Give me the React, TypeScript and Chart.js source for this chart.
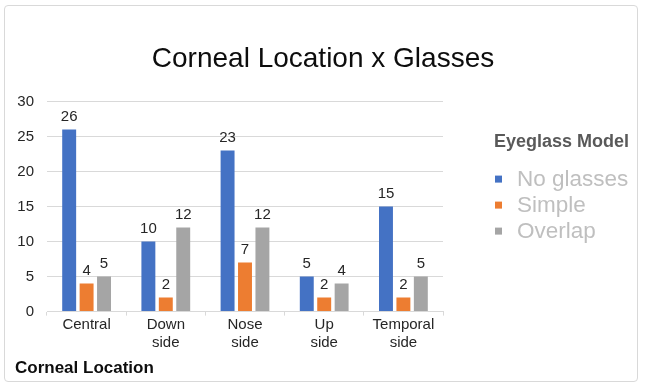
import React, { useEffect, useRef } from 'react';
import { Chart, registerables } from 'chart.js';

Chart.register(...registerables);

const categories: (string | string[])[] = ['Central', ['Down', 'side'], ['Nose', 'side'], ['Up', 'side'], ['Temporal', 'side']];
const noGlasses = [26, 10, 23, 5, 15];
const simple = [4, 2, 7, 2, 2];
const overlap = [5, 12, 12, 4, 5];
const seriesNames = ['No glasses', 'Simple', 'Overlap'];
const seriesColors = ['#4472C4', '#ED7D31', '#A5A5A5'];
const chartTitle = 'Corneal Location x Glasses';
const xAxisTitle = 'Corneal Location';
const legendTitle = 'Eyeglass Model';
const yMin = 0;
const yMax = 30;
const yStep = 5;

const FONT = '"Liberation Sans", Arial, sans-serif';

const dataLabelPlugin = {
  id: 'dataLabels',
  afterDatasetsDraw(chart: any) {
    const ctx = chart.ctx;
    ctx.save();
    ctx.font = `15px ${FONT}`;
    ctx.fillStyle = '#262626';
    ctx.textAlign = 'center';
    ctx.textBaseline = 'alphabetic';
    chart.data.datasets.forEach((ds: any, i: number) => {
      chart.getDatasetMeta(i).data.forEach((bar: any, j: number) => {
        ctx.fillText(String(ds.data[j]), bar.x, bar.y - 9);
      });
    });
    ctx.restore();
  },
};

const sideLegendPlugin = {
  id: 'sideLegend',
  afterDraw(chart: any) {
    const ctx = chart.ctx;
    const area = chart.chartArea;
    const x0 = area.right + 51;
    ctx.save();
    ctx.textAlign = 'left';
    ctx.textBaseline = 'middle';
    ctx.font = `bold 18px ${FONT}`;
    ctx.fillStyle = '#595959';
    ctx.fillText(legendTitle, x0, area.top + 40);
    ctx.font = `22.5px ${FONT}`;
    chart.data.datasets.forEach((ds: any, i: number) => {
      const y = area.top + 78 + i * 26;
      ctx.fillStyle = ds.backgroundColor;
      ctx.fillRect(x0 + 1, y - 4, 7, 7);
      ctx.fillStyle = '#BFBFBF';
      ctx.fillText(ds.label, x0 + 23, y);
    });
    ctx.restore();
  },
};

export default function App() {
  const canvasRef = useRef<HTMLCanvasElement | null>(null);

  useEffect(() => {
    if (!canvasRef.current) return;
    const seriesData = [noGlasses, simple, overlap];
    const chart = new Chart(canvasRef.current, {
      type: 'bar',
      data: {
        labels: categories,
        datasets: seriesNames.map((name, i) => ({
          label: name,
          data: seriesData[i],
          backgroundColor: seriesColors[i],
          borderWidth: 0,
          categoryPercentage: 0.66,
          barPercentage: 0.8,
          yAxisID: 'y',
        })),
      },
      options: {
        animation: false,
        responsive: false,
        maintainAspectRatio: false,
        layout: { padding: { left: 15, right: 16, top: 0, bottom: 0 } },
        plugins: {
          legend: { display: false },
          tooltip: { enabled: false },
          title: {
            display: true,
            text: chartTitle,
            color: '#0D0D0D',
            font: { family: FONT, size: 28, weight: 'normal', lineHeight: 1.2 },
            padding: { top: 42, bottom: 26 },
          },
          subtitle: {
            display: true,
            position: 'bottom',
            align: 'start',
            text: xAxisTitle,
            color: '#0D0D0D',
            font: { family: FONT, size: 17, weight: 'bold', lineHeight: 1.2 },
            padding: { top: 7, bottom: 10 },
          },
        },
        scales: {
          x: {
            grid: {
              offset: true,
              drawOnChartArea: false,
              drawTicks: true,
              tickLength: 4,
              color: '#D9D9D9',
            },
            border: { display: true, color: '#D9D9D9' },
            ticks: {
              color: '#262626',
              padding: 0,
              maxRotation: 0,
              autoSkip: false,
              font: { family: FONT, size: 15, lineHeight: 1.2 },
            },
            afterFit: (scale: any) => {
              scale.paddingLeft = 0;
              scale.paddingRight = 0;
            },
          },
          y: {
            min: yMin,
            max: yMax,
            grid: { color: '#D9D9D9', drawTicks: false },
            border: { display: false },
            ticks: {
              stepSize: yStep,
              color: '#262626',
              padding: 13,
              font: { family: FONT, size: 15 },
            },
            afterFit: (scale: any) => {
              scale.width = 32;
            },
          },
          legendSpace: {
            type: 'linear',
            position: 'right',
            display: true,
            grid: { display: false, drawTicks: false },
            border: { display: false },
            ticks: { display: false },
            afterFit: (scale: any) => {
              scale.width = 188;
            },
          },
        },
      },
      plugins: [dataLabelPlugin, sideLegendPlugin],
    } as any);
    return () => chart.destroy();
  }, []);

  return (
    <div style={{ position: 'fixed', left: 0, top: 0, width: 647, height: 389, background: '#fff' }}>
      <div
        style={{
          position: 'absolute',
          left: 4,
          top: 5,
          width: 634,
          height: 377,
          border: '1px solid #D9D9D9',
          borderRadius: 4,
          boxSizing: 'border-box',
        }}
      />
      <canvas ref={canvasRef} width={647} height={389} style={{ position: 'absolute', left: 0, top: 0, width: 647, height: 389 }} />
    </div>
  );
}
